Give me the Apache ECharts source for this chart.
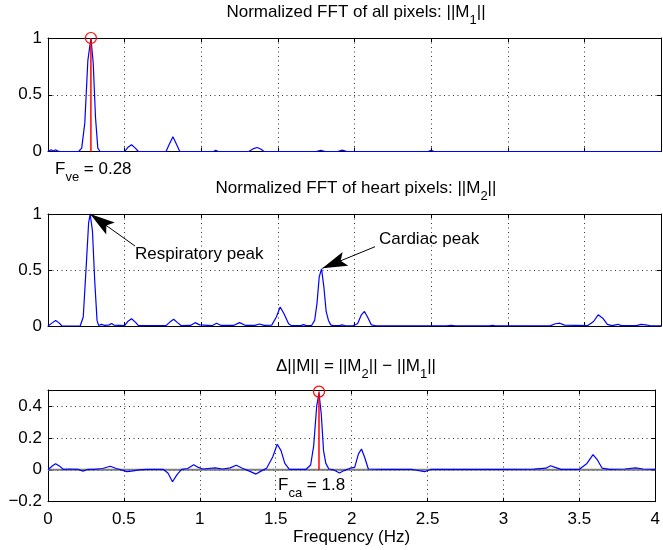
<!DOCTYPE html>
<html><head><meta charset="utf-8">
<script src="https://cdn.jsdelivr.net/npm/echarts@6/dist/echarts.min.js"></script>
<style>html,body{margin:0;padding:0;background:#fff}#c{width:663px;height:550px}</style>
</head><body><div id="c"></div><script>
// ---------- data ----------
const m1Freq = [0,0.02,0.035,0.05,0.065,0.08,0.2,0.22,0.24,0.26,0.28,0.295,0.31,0.325,0.34,0.50,0.52,0.545,0.57,0.59,0.77,0.79,0.815,0.84,0.86,1.08,1.095,1.11,1.31,1.34,1.365,1.39,1.41,1.75,1.78,1.81,1.89,1.92,1.95,2.48,2.5,2.52,4.0];
const m1Val  = [0,0.015,0.004,0.015,0.003,0,0,0.03,0.25,0.8,1.0,0.78,0.3,0.03,0,0,0.035,0.06,0.03,0,0,0.06,0.13,0.06,0,0,0.01,0,0,0.025,0.035,0.02,0,0,0.01,0,0,0.012,0,0,0.01,0,0];

const m2Freq = [0,0.03,0.05,0.07,0.09,0.21,0.23,0.25,0.265,0.275,0.29,0.305,0.32,0.33,0.35,0.37,0.40,0.415,0.43,0.50,0.52,0.545,0.57,0.59,0.77,0.795,0.82,0.845,0.87,0.93,0.96,0.99,1.07,1.1,1.13,1.21,1.25,1.29,1.35,1.38,1.41,1.46,1.49,1.515,1.54,1.57,1.59,1.65,1.667,1.685,1.72,1.74,1.755,1.77,1.785,1.80,1.815,1.83,1.845,1.86,1.9,1.92,1.94,1.99,2.02,2.045,2.065,2.085,2.11,2.14,2.6,2.63,2.66,2.88,2.9,2.92,3.28,3.31,3.34,3.37,3.52,3.56,3.59,3.62,3.65,3.68,3.72,3.74,3.84,3.87,3.9,3.93,4.0];
const m2Val  = [0,0.03,0.05,0.03,0.002,0,0.08,0.55,0.92,1.0,0.85,0.4,0.05,0.005,0.015,0.005,0.01,0.022,0.008,0.003,0.04,0.065,0.035,0.003,0.003,0.035,0.06,0.03,0.003,0.005,0.03,0.01,0.003,0.025,0.005,0.005,0.03,0.005,0.005,0.018,0.005,0.008,0.08,0.17,0.11,0.02,0.003,0.003,0.012,0.003,0.005,0.05,0.2,0.44,0.51,0.35,0.13,0.05,0.01,0.003,0.003,0.01,0.002,0.002,0.02,0.1,0.13,0.08,0.01,0.002,0.002,0.006,0.002,0.002,0.006,0.002,0.003,0.02,0.025,0.008,0.003,0.04,0.1,0.07,0.015,0.003,0.015,0.003,0.003,0.015,0.01,0.002,0.002];

const dFreq = [0,0.03,0.05,0.08,0.1,0.14,0.2,0.23,0.26,0.3,0.36,0.41,0.45,0.5,0.52,0.55,0.6,0.65,0.7,0.76,0.79,0.82,0.85,0.88,0.92,0.96,0.99,1.02,1.1,1.15,1.2,1.24,1.28,1.33,1.37,1.4,1.44,1.48,1.51,1.535,1.56,1.59,1.65,1.70,1.73,1.75,1.77,1.785,1.80,1.815,1.83,1.85,1.88,1.92,1.95,1.99,2.02,2.045,2.065,2.085,2.11,2.2,2.4,2.48,2.52,2.7,3.0,3.2,3.28,3.31,3.34,3.38,3.5,3.55,3.59,3.62,3.65,3.7,3.8,3.87,3.92,4.0];
const dVal  = [0,0.025,0.038,0.02,0.003,0.005,0.002,-0.008,0.002,0.003,0.008,0.022,0.008,-0.005,-0.012,-0.008,0,0.002,0.003,0.002,-0.02,-0.075,-0.03,0.003,0.008,0.032,0.015,0.005,0.012,0.005,0.012,0.028,0.01,-0.01,-0.027,-0.01,0.01,0.08,0.16,0.12,0.04,0.003,0.003,0.003,0.03,0.15,0.4,0.48,0.35,0.12,0.04,0.005,0,-0.02,-0.005,0.01,0.015,0.1,0.13,0.08,0.005,0.003,0.002,-0.012,0.002,0.003,0.003,0.004,0.01,0.025,0.015,0.003,0.003,0.04,0.095,0.06,0.01,0.003,0.005,0.012,0.005,0.002];

const stem1 = [0.28, 1.0];     // F_ve peak
const stem3 = [1.785, 0.49];   // F_ca peak
const respArrow = [[0.568, 0.714], [0.275, 1.0]];
const cardArrow = [[2.134, 0.708], [1.79, 0.515]];
const respText = [0.568, 0.643];
const cardText = [2.16, 0.777];

const titles = [
  '{n|Normalized FFT of all pixels: ||M}{s|1}{n|||}',
  '{n|Normalized FFT of heart pixels: ||M}{s|2}{n|||}',
  '{n|\u0394||M|| = ||M}{s|2}{n||| \u2212 ||M}{s|1}{n|||}'
];
const yRanges = [[0, 1, 0.5], [0, 1, 0.5], [-0.2, 0.5, 0.2]];

// ---------- chart ----------
const F = '"Liberation Sans", Arial, Helvetica, sans-serif';
const zip = (a, b) => a.map((x, i) => [x, b[i]]);
const grids = [
  {left: 48, right: 2, top: 38, height: 113.5},
  {left: 48, right: 2, top: 214, height: 112},
  {left: 48, right: 2, top: 390, height: 111.7}
];
const axLine = {show: true, onZero: false, lineStyle: {color: '#000', width: 1}};
const tick = {show: true, inside: true, length: 4, lineStyle: {color: '#000'}};
const dotted = {show: true, lineStyle: {color: '#333', type: [1, 3.5], width: 1}};
const xAxis = [], yAxis = [];
for (let i = 0; i < 3; i++) {
  xAxis.push({type: 'value', gridIndex: i, min: 0, max: 4, interval: 0.5, position: 'bottom',
    axisLine: axLine, axisTick: tick, splitLine: dotted,
    axisLabel: {show: i === 2, color: '#000', fontSize: 17, fontFamily: F, margin: 9},
    name: i === 2 ? 'Frequency (Hz)' : '', nameLocation: 'middle', nameGap: 26,
    nameTextStyle: {color: '#000', fontSize: 17, fontFamily: F}});
  xAxis.push({type: 'value', gridIndex: i, min: 0, max: 4, interval: 0.5, position: 'top',
    axisLine: axLine, axisTick: tick, splitLine: {show: false}, axisLabel: {show: false}});
  const [mn, mx, iv] = yRanges[i];
  yAxis.push({type: 'value', gridIndex: i, min: mn, max: mx, interval: iv, position: 'left',
    axisLine: axLine, axisTick: tick, splitLine: dotted,
    axisLabel: {color: '#000', fontSize: 17, fontFamily: F, margin: 6, showMaxLabel: i !== 2,
      formatter: v => (v < 0 ? '\u2212' + Math.abs(v) : String(v))}});
  yAxis.push({type: 'value', gridIndex: i, min: mn, max: mx, interval: iv, position: 'right',
    axisLine: axLine, axisTick: tick, splitLine: {show: false}, axisLabel: {show: false}});
}
const blue = {color: '#0000ff', width: 1.2};
const stemSeries = (i, s) => ({type: 'line', xAxisIndex: 2 * i, yAxisIndex: 2 * i, z: 5,
  data: [[s[0], 0], [s[0], s[1]]],
  symbol: (v, p) => (p.dataIndex === 1 ? 'circle' : 'none'), symbolSize: 11,
  showSymbol: true,
  itemStyle: {color: 'rgba(0,0,0,0)', borderColor: '#ff0000', borderWidth: 1.2},
  lineStyle: {color: '#ff0000', width: 1.5}, animation: false});
// arrow head whose tip sits at the centre of its box
const arrowHead = 'path://M5,17 L10,34 L5,30.5 L0,34 Z M5,0 L5,0.01';
const series = [
  {type: 'line', xAxisIndex: 0, yAxisIndex: 0, data: zip(m1Freq, m1Val), symbol: 'none', lineStyle: blue, z: 3, animation: false},
  stemSeries(0, stem1),
  {type: 'line', xAxisIndex: 2, yAxisIndex: 2, data: zip(m2Freq, m2Val), symbol: 'none', lineStyle: blue, z: 3, animation: false,
    markLine: {silent: true, symbol: ['none', arrowHead], symbolSize: 50, symbolKeepAspect: true, animation: false,
      itemStyle: {color: '#000'},
      lineStyle: {color: '#000', width: 1, type: 'solid'}, label: {show: false},
      data: [[{coord: respArrow[0]}, {coord: respArrow[1], symbolKeepAspect: true}],
             [{coord: cardArrow[0]}, {coord: cardArrow[1], symbolKeepAspect: true}]]},
    markPoint: {symbol: 'circle', symbolSize: 0, animation: false,
      label: {show: true, position: 'right', distance: 0, color: '#000', fontSize: 17, fontFamily: F},
      data: [{coord: respText, label: {formatter: 'Respiratory peak'}}, {coord: cardText, label: {formatter: 'Cardiac peak'}}]}},
  {type: 'line', xAxisIndex: 4, yAxisIndex: 4, data: [[0, 0], [4, 0]], symbol: 'none', lineStyle: {color: '#7f7f7f', width: 2}, z: 2, animation: false},
  {type: 'line', xAxisIndex: 4, yAxisIndex: 4, data: zip(dFreq, dVal), symbol: 'none', lineStyle: blue, z: 3, animation: false},
  stemSeries(2, stem3)
];
const rich = {
  n: {fontSize: 17, fontFamily: F, lineHeight: 20, verticalAlign: 'top', color: '#000'},
  s: {fontSize: 13, fontFamily: F, lineHeight: 14, padding: [10, 0, 0, 0], verticalAlign: 'top', color: '#000'}
};
const titleTops = [4, 180, 358];
const graphic = titles.map((t, i) => ({type: 'text', x: 356, y: titleTops[i],
  style: {text: t, rich: rich, align: 'center', verticalAlign: 'top', fill: '#000'}}));
graphic.push({type: 'text', x: 55, y: 161, style: {text: '{n|F}{s|ve}{n| = 0.28}', rich: rich, align: 'left', verticalAlign: 'top'}});
graphic.push({type: 'text', x: 278, y: 477, style: {text: '{n|F}{s|ca}{n| = 1.8}', rich: rich, align: 'left', verticalAlign: 'top'}});

const chart = echarts.init(document.getElementById('c'), null, {renderer: 'canvas'});
chart.setOption({animation: false, backgroundColor: '#fff', grid: grids, xAxis, yAxis, series, graphic});
</script></body></html>
